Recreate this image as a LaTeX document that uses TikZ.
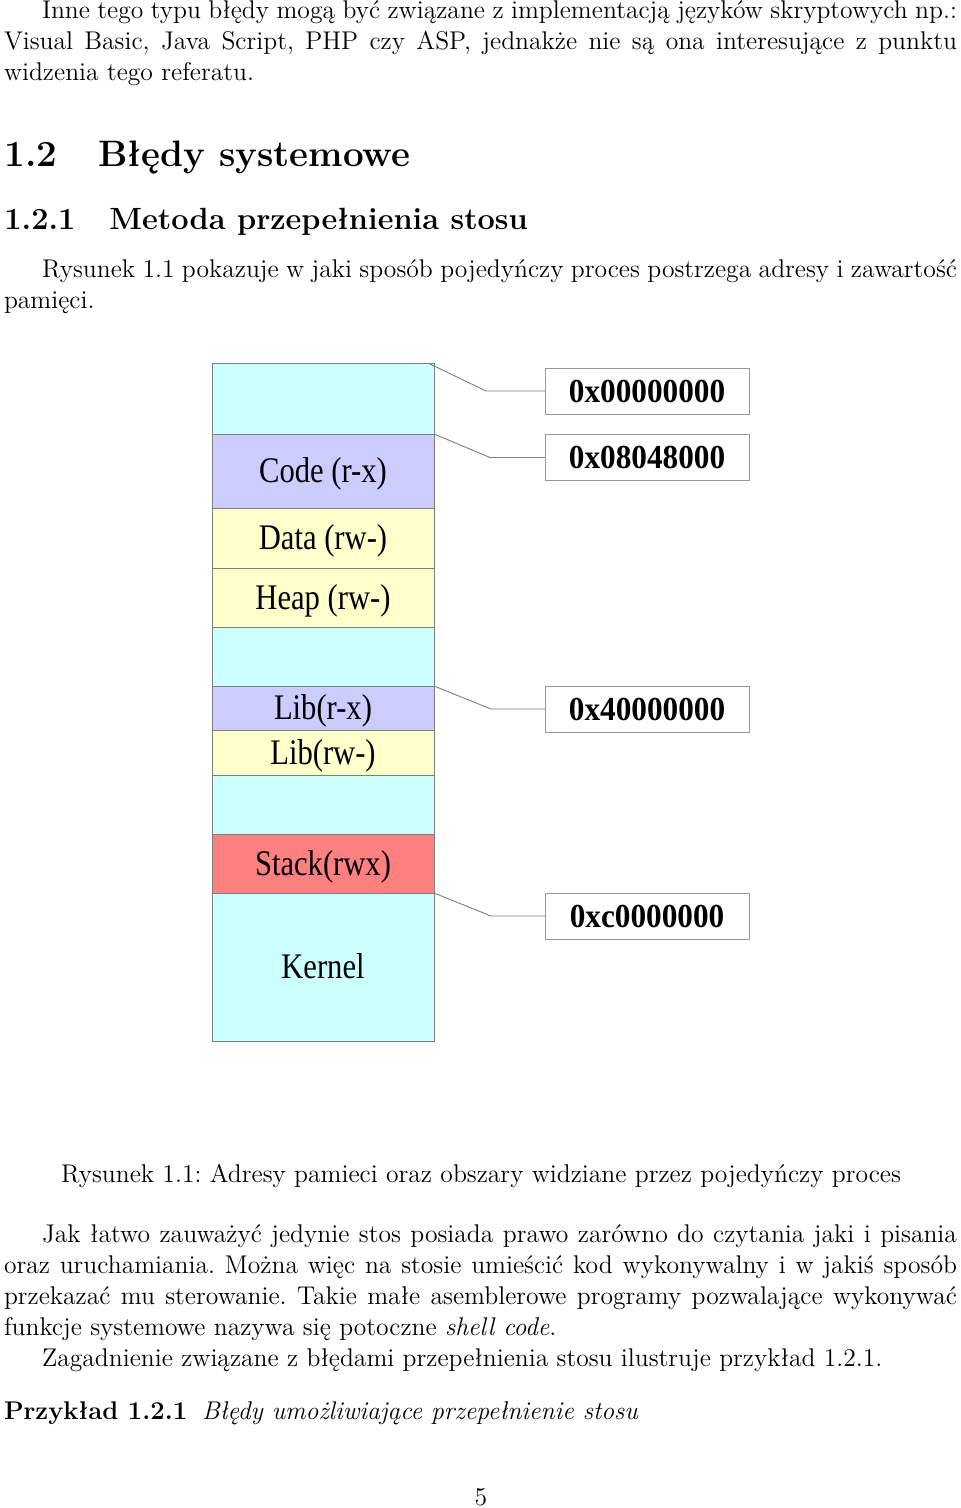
\documentclass[tikz,border=0pt]{standalone}
\usepackage{fontspec}
\newfontfamily\tnr{Liberation Serif}
\definecolor{cyanreg}{HTML}{CCFFFF}
\definecolor{lavreg}{HTML}{CCCCFF}
\definecolor{yelreg}{HTML}{FFFFCC}
\definecolor{redreg}{HTML}{FF8080}
\definecolor{edgegray}{HTML}{7F7F7F}
\newcommand{\jl}[2]{\makebox[#1][s]{#2}}
\tikzset{
  body/.style={anchor=base west, inner sep=0pt, outer sep=0pt, font=\fontsize{12.8}{15.5}\selectfont\frenchspacing},
  sect/.style={anchor=base west, inner sep=0pt, font=\fontsize{18.4}{22}\selectfont\bfseries},
  subsect/.style={anchor=base west, inner sep=0pt, font=\fontsize{15.35}{18}\selectfont\bfseries},
  region/.style={draw=edgegray, line width=0.5pt, minimum width=111pt, inner sep=0pt, outer sep=0pt,
     text height=11.9pt, text depth=0pt, font=\fontsize{18}{18}\selectfont\tnr},
  addr/.style={draw=edgegray!80, fill=white, line width=0.5pt, minimum width=102pt, minimum height=23pt,
     inner sep=0pt, outer sep=0pt, text height=11.4pt, text depth=0pt, font=\fontsize{16.8}{18}\selectfont\tnr\bfseries},
  conn/.style={draw=edgegray, line width=0.45pt}
}
\newcommand{\lab}[1]{\scalebox{0.85}[1]{#1}}
\newcommand{\adr}[1]{\scalebox{0.93}[1]{#1}}
\begin{document}
\begin{tikzpicture}[x=0.5pt,y=-0.5pt]
\useasboundingbox[fill=white] (0,0) rectangle (960,1508);
% top text
\node[body] (t1) at (42,19) {\jl{457.5pt}{Inne tego typu błędy mogą być związane z implementacją języków skryptowych np.:}};
\node[body] (t2) at (4,50) {\jl{476.5pt}{Visual Basic, Java Script, PHP czy ASP, jednakże nie są ona interesujące z punktu}};
\node[body] (t3) at (4,81) {widzenia tego referatu.};
\node[sect] (s1n) at (4,167) {1.2};
\node[sect] (s1t) at (98,167) {Błędy systemowe};
\node[subsect] (s2n) at (4,230) {1.2.1};
\node[subsect] (s2t) at (109,230) {Metoda przepełnienia stosu};
\node[body] (r1) at (42,278) {\jl{457.5pt}{Rysunek 1.1 pokazuje w jaki sposób pojedyńczy proces postrzega adresy i zawartość}};
\node[body] (r2) at (4,309) {pamięci.};
% memory regions
\node[region, fill=cyanreg, minimum height=35.5pt] (m0) at (323,398.5) {};
\node[region, fill=lavreg, minimum height=37pt] (m1) at (323,471) {\lab{Code (r-x)}};
\node[region, fill=yelreg, minimum height=30pt] (m2) at (323,538) {\lab{Data (rw-)}};
\node[region, fill=yelreg, minimum height=29.5pt] (m3) at (323,597.5) {\lab{Heap (rw-)}};
\node[region, fill=cyanreg, minimum height=29.5pt] (m4) at (323,656.5) {};
\node[region, fill=lavreg, minimum height=22pt] (m5) at (323,708) {\lab{Lib(r-x)}};
\node[region, fill=yelreg, minimum height=22.5pt] (m6) at (323,752.5) {\lab{Lib(rw-)}};
\node[region, fill=cyanreg, minimum height=29.5pt] (m7) at (323,804.5) {};
\node[region, fill=redreg, minimum height=29.5pt] (m8) at (323,863.5) {\lab{Stack(rwx)}};
\node[region, fill=cyanreg, minimum height=74pt] (m9) at (323,967) {\lab{Kernel}};
% addresses
\node[addr] (a0) at (647,391) {\adr{0x00000000}};
\node[addr] (a1) at (647,457.5) {\adr{0x08048000}};
\node[addr] (a2) at (647,709) {\adr{0x40000000}};
\node[addr] (a3) at (647,916) {\adr{0xc0000000}};
\draw[conn] ([xshift=-3pt]m0.north east) -- ([xshift=-29.5pt]a0.west) -- (a0.west);
\draw[conn] (m1.north east) -- ([xshift=-27.5pt]a1.west) -- (a1.west);
\draw[conn] (m5.north east) -- ([xshift=-27pt]a2.west) -- (a2.west);
\draw[conn] (m9.north east) -- ([xshift=-27pt]a3.west) -- (a3.west);
% caption and text below
\node[body, anchor=base] (cap) at (481,1182) {Rysunek 1.1: Adresy pamieci oraz obszary widziane przez pojedyńczy proces};
\node[body] (p1) at (42,1242) {\jl{457.5pt}{Jak łatwo zauważyć jedynie stos posiada prawo zarówno do czytania jaki i pisania}};
\node[body] (p2) at (4,1273) {\jl{476.5pt}{oraz uruchamiania. Można więc na stosie umieścić kod wykonywalny i w jakiś sposób}};
\node[body] (p3) at (4,1304) {\jl{476.5pt}{przekazać mu sterowanie. Takie małe asemblerowe programy pozwalające wykonywać}};
\node[body] (p4) at (4,1335) {funkcje systemowe nazywa się potoczne \textit{shell code}.};
\node[body] (p5) at (42,1366) {Zagadnienie związane z błędami przepełnienia stosu ilustruje przykład 1.2.1.};
\node[body] (ex1) at (4,1419) {\textbf{Przykład 1.2.1}};
\node[body] (ex2) at (202,1419) {\textit{Błędy umożliwiające przepełnienie stosu}};
\node[body, anchor=base] (pg) at (481,1505) {5};
\end{tikzpicture}
\end{document}
